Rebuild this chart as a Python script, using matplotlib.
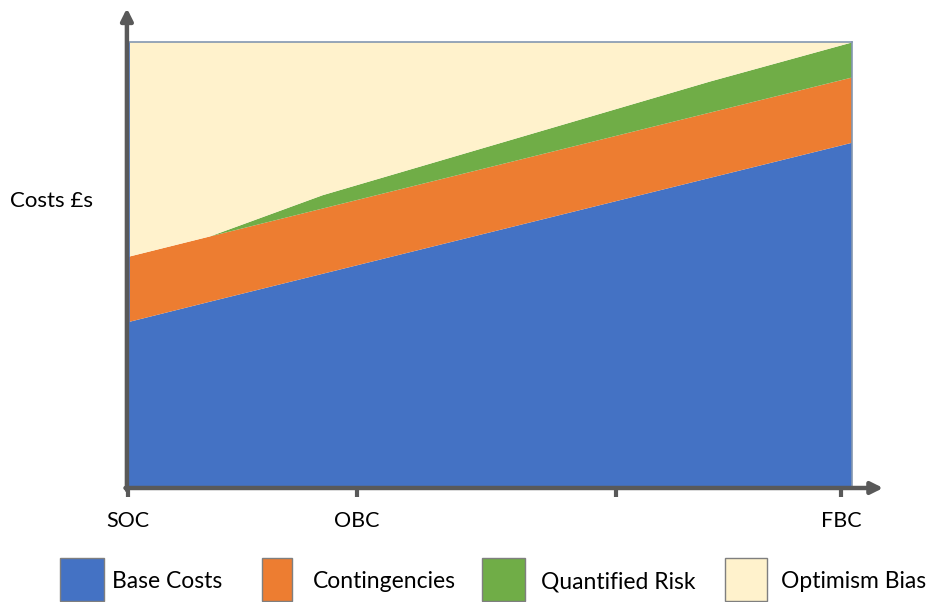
import matplotlib
matplotlib.use('Agg')
import matplotlib.pyplot as plt
from matplotlib.patches import Rectangle

plt.rcParams['font.family'] = ['Lato', 'DejaVu Sans']

# project stage position (0-100) and cost layers (% of scale)
x = [0, 11.3, 26.9, 80.4, 100]
base = [36.9, 41.5, 47.8, 69.4, 77.3]
contingency = [14.7, 14.7, 14.7, 14.7, 14.7]
risk = [0.0, 0.0, 3.0, 7.0, 7.9]
optimism = [48.4, 43.8, 34.5, 8.9, 0.1]

layer_names = ['Base Costs', 'Contingencies', 'Quantified Risk', 'Optimism Bias']
layer_colors = ['#4472C4', '#ED7D31', '#70AD47', '#FFF2CC']

stage_pos = [0, 31.6, 67.4, 98.5]
stage_labels = ['SOC', 'OBC', '', 'FBC']

AX = '#595959'
W, H = 929, 602

fig = plt.figure(figsize=(W/100, H/100), dpi=100)
ax = fig.add_axes([128/W, 1-486/H, 724/W, 444/H])
ax.stackplot(x, base, contingency, risk, optimism, colors=layer_colors, lw=0)
ax.set_xlim(0, 100); ax.set_ylim(0, 100)

for s in ['left', 'bottom']:
    ax.spines[s].set_visible(False)
for s in ['top', 'right']:
    ax.spines[s].set_color('#8497B0'); ax.spines[s].set_linewidth(1.2)
ax.axvline(0.15, color='#4472C4', lw=1.2)

ax.set_yticks([])
ax.set_xticks(stage_pos, stage_labels)
ax.tick_params(axis='x', length=8, width=3, color=AX, labelsize=15.5, pad=10, labelcolor='#000000')
for lbl in ax.get_xticklabels():
    if lbl.get_text() == 'SOC':
        lbl.set_x(-0.5)

# axis lines with arrow heads
arrow = dict(arrowstyle='-|>,head_length=0.7,head_width=0.35', color=AX, lw=3.2, shrinkA=0, shrinkB=0)
ax.annotate('', xy=(104.3, -0.45), xytext=(-0.35, -0.45), xycoords='data', arrowprops=arrow, annotation_clip=False)
ax.annotate('', xy=(-0.15, 107.6), xytext=(-0.15, -0.9), xycoords='data', arrowprops=arrow, annotation_clip=False)

fig.text(10/W, 1-201/H, 'Costs £s', fontsize=16, ha='left', va='center')

# legend row
boxes = [(60, 44), (262, 30), (482, 43), (725, 42)]
text_x = [112, 313, 541, 781]
for (bx, bw), tx, name, col in zip(boxes, text_x, layer_names, layer_colors):
    fig.patches.append(Rectangle((bx/W, 1-601/H), bw/W, 43/H, transform=fig.transFigure,
                                 facecolor=col, edgecolor='#7F7F7F', lw=1))
    fig.text(tx/W, 1-582/H, name, fontsize=16.5, ha='left', va='center')

fig.savefig('out.png', dpi=100)
